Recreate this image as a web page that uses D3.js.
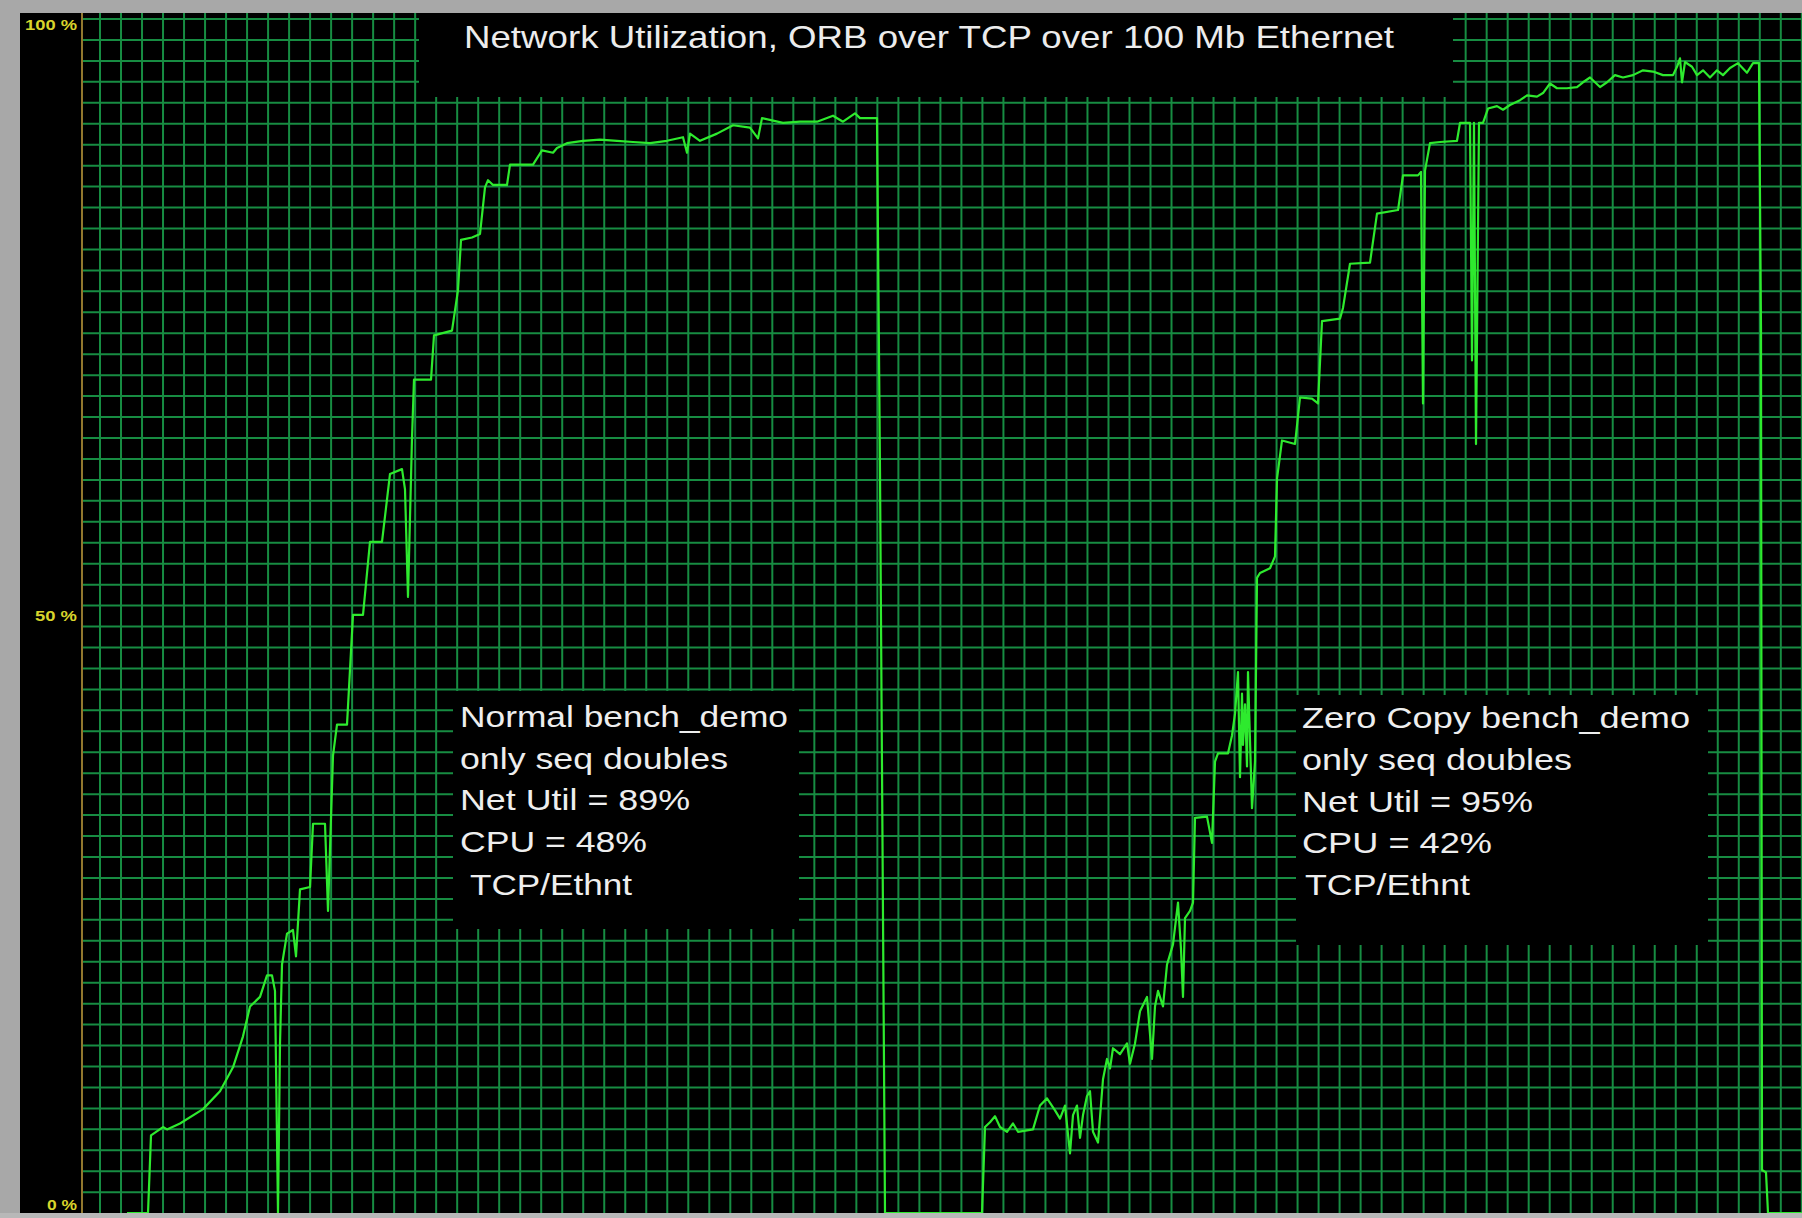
<!DOCTYPE html>
<html>
<head>
<meta charset="utf-8">
<title>Network Utilization</title>
<script src="https://cdn.jsdelivr.net/npm/d3@7"></script>
<style>
  html, body { margin: 0; padding: 0; background: #a9a9a9; }
  svg { display: block; }
</style>
</head>
<body>
<svg id="chart" width="1802" height="1218"></svg>
<script>
// Network utilisation samples: [time (s), utilisation (%)]
const normalRun = [
  [4.5, 0], [6.6, 0], [6.9, 6.5], [8.1, 7.2], [8.5, 7.0], [9.8, 7.5], [12.1, 8.7],
  [13.8, 10.2], [15.1, 12.2], [16.1, 14.8], [16.8, 17.3], [17.8, 18.1], [18.5, 19.9],
  [19.0, 19.9], [19.3, 18.6], [19.6, 0], [19.8, 14.2], [20.0, 20.8], [20.5, 23.4],
  [21.1, 23.7], [21.4, 21.5], [21.8, 27.1], [22.8, 27.3], [23.1, 32.6], [24.3, 32.6],
  [24.6, 25.3], [25.1, 38.3], [25.5, 40.9], [26.5, 40.9], [27.1, 50.1], [28.1, 50.1],
  [28.8, 56.2], [30.0, 56.2], [30.8, 61.9], [32.0, 62.3], [32.3, 60.6], [32.6, 51.6],
  [33.0, 64.9], [33.2, 69.8], [34.9, 69.8], [35.2, 73.5], [37.0, 73.9], [37.6, 77.3],
  [37.9, 81.5], [39.0, 81.7], [39.8, 82.0], [40.3, 85.9], [40.6, 86.5], [41.1, 86.1],
  [42.5, 86.1], [42.8, 87.8], [45.1, 87.8], [46.0, 89.0], [47.1, 88.8], [47.5, 89.2],
  [48.5, 89.6], [50.1, 89.8], [51.8, 89.9], [53.5, 89.8], [55.1, 89.7], [56.8, 89.6],
  [58.5, 89.8], [60.1, 90.1], [60.5, 88.8], [60.8, 90.4], [61.8, 89.8], [63.5, 90.4],
  [65.1, 91.1], [66.8, 90.9], [67.6, 90.0], [68.0, 91.7], [70.1, 91.3], [71.8, 91.4],
  [73.5, 91.4], [75.1, 91.9], [76.1, 91.4], [77.3, 92.1], [77.8, 91.7], [79.5, 91.7],
  [79.8, 62.1], [80.3, 0]
];

const zeroCopyRun = [
  [80.3, 0], [90.0, 0], [90.3, 7.2], [90.8, 7.6], [91.3, 8.1], [91.8, 7.2], [92.5, 6.8],
  [93.1, 7.5], [93.6, 6.8], [95.1, 7.0], [95.8, 9.0], [96.5, 9.6], [97.3, 8.6], [97.8, 7.9],
  [98.3, 9.0], [98.8, 5.0], [99.1, 8.2], [99.5, 9.0], [99.8, 6.3], [100.1, 8.2], [100.5, 9.8],
  [100.8, 10.2], [101.1, 6.8], [101.6, 5.9], [102.1, 11.2], [102.5, 12.9], [102.8, 12.1],
  [103.1, 13.8], [103.8, 13.3], [104.5, 14.2], [104.8, 12.5], [105.3, 14.2], [105.8, 16.9],
  [106.5, 18.1], [107.0, 12.9], [107.3, 17.3], [107.6, 18.6], [108.1, 17.3], [108.5, 20.8],
  [109.1, 22.5], [109.6, 26.0], [109.9, 22.1], [110.1, 18.1], [110.3, 24.7], [110.8, 25.3],
  [111.1, 26.0], [111.3, 33.1], [112.5, 33.2], [113.0, 31.0], [113.3, 37.8], [113.6, 38.5],
  [114.6, 38.5], [115.0, 40.0], [115.3, 41.8], [115.6, 45.3], [115.8, 36.5], [116.0, 43.5],
  [116.1, 39.2], [116.3, 42.6], [116.5, 37.4], [116.6, 45.3], [117.0, 33.9], [117.3, 37.8],
  [117.5, 53.2], [117.8, 53.6], [118.8, 54.0], [119.3, 55.0], [119.5, 61.5], [120.0, 64.7],
  [121.3, 64.4], [121.8, 68.3], [123.0, 68.2], [123.6, 67.8], [124.0, 74.7], [125.8, 74.9],
  [126.1, 75.8], [126.8, 79.5], [128.8, 79.6], [129.5, 83.7], [131.6, 84.0], [132.1, 86.9],
  [133.6, 86.9], [133.9, 87.2], [134.1, 67.8], [134.3, 87.3], [134.8, 89.6], [135.8, 89.7],
  [137.5, 89.8], [137.8, 91.3], [138.8, 91.3], [139.0, 71.4], [139.2, 91.3], [139.4, 64.4],
  [139.7, 91.3], [140.1, 91.3], [140.6, 92.5], [141.5, 92.7], [142.1, 92.4], [142.8, 92.8],
  [143.8, 93.2], [144.5, 93.6], [145.5, 93.5], [146.1, 93.8], [146.8, 94.6], [147.5, 94.2],
  [148.5, 94.2], [149.5, 94.3], [150.1, 94.7], [150.8, 95.1], [151.8, 94.3], [152.5, 94.7],
  [153.3, 95.3], [154.1, 95.1], [155.1, 95.3], [156.1, 95.7], [157.1, 95.6], [158.1, 95.3],
  [159.1, 95.3], [159.5, 96.0], [159.8, 96.7], [160.0, 94.7], [160.3, 96.4], [161.0, 96.0],
  [161.5, 95.3], [162.1, 95.7], [162.8, 95.1], [163.5, 95.7], [164.1, 95.3], [164.8, 95.9],
  [165.6, 96.3], [166.5, 95.5], [167.1, 96.3], [167.7, 96.3], [167.9, 74.0], [168.0, 3.6],
  [168.4, 3.4], [168.6, 0], [172.0, 0]
];

const timeDomain = [0, 172];
const yTicks = [0, 50, 100];
const yTickLabels = ["0 %", "50 %", "100 %"];

const chartTitle = "Network Utilization, ORB over TCP over 100 Mb Ethernet";
const normalNote = ["Normal bench_demo", "only seq doubles", "Net Util = 89%", "CPU = 48%", "TCP/Ethnt"];
const zeroCopyNote = ["Zero Copy bench_demo", "only seq doubles", "Net Util = 95%", "CPU = 42%", "TCP/Ethnt"];

// ---- layout ----
const W = 1802, H = 1218;
const panel = { x: 20, y: 13, w: W - 20, h: 1200 };
const plotLeft = 82, plotRight = W, plotTop = 19, plotBottom = 1213;
const font = "'Liberation Sans', Arial, sans-serif";

const svg = d3.select("#chart");

const x = d3.scaleLinear().domain(timeDomain).range([plotLeft, plotRight]);
const y = d3.scaleLinear().domain([0, 100]).range([plotBottom, plotTop]);

// window frame and black graph panel
svg.append("rect").attr("x", 0).attr("y", 0).attr("width", W).attr("height", H).attr("fill", "#a8a8a8");
svg.append("rect").attr("x", panel.x).attr("y", panel.y).attr("width", panel.w).attr("height", panel.h).attr("fill", "#000");

// monitor grid
const grid = svg.append("g").attr("stroke", "#178c42").attr("stroke-width", 2);
const gx = d3.range(100, W + 1, 21.01);
const gy = d3.range(19, panel.y + panel.h - 1, 20.95);
grid.selectAll("line.v").data(gx).join("line").attr("class", "v")
  .attr("x1", d => d).attr("x2", d => d).attr("y1", panel.y).attr("y2", panel.y + panel.h);
grid.selectAll("line.h").data(gy).join("line").attr("class", "h")
  .attr("x1", plotLeft + 1).attr("x2", W).attr("y1", d => d).attr("y2", d => d);

// percentage axis
const axis = d3.axisLeft(y)
  .tickValues(yTicks)
  .tickSize(0)
  .tickPadding(5)
  .tickFormat((d, i) => yTickLabels[i]);
const axisG = svg.append("g").attr("transform", `translate(${plotLeft},0)`).call(axis);
axisG.select(".domain").attr("d", `M0,${panel.y}V${panel.y + panel.h}`)
  .attr("stroke", "#b8973a").attr("stroke-width", 1.6);
const labelWidth = { 0: 30, 50: 42, 100: 52 };
const labelShift = { 0: -8, 50: 0, 100: 6 };
axisG.selectAll(".tick text")
  .attr("fill", "#d8d42c")
  .attr("font-family", font)
  .attr("font-weight", "bold")
  .attr("font-size", 14)
  .attr("dy", "0.35em")
  .attr("y", d => labelShift[d])
  .attr("textLength", d => labelWidth[d])
  .attr("lengthAdjust", "spacingAndGlyphs");

// utilisation trace
const line = d3.line().x(d => x(d[0])).y(d => y(d[1]));
const traces = svg.append("g")
  .attr("fill", "none")
  .attr("stroke", "#2eea2e")
  .attr("stroke-width", 2.2)
  .attr("stroke-linejoin", "round");
[normalRun, zeroCopyRun].forEach(run => traces.append("path").attr("d", line(run)));

// lower window edge sits over the baseline of the trace
svg.append("rect").attr("x", 0).attr("y", panel.y + panel.h).attr("width", W).attr("height", H - panel.y - panel.h).attr("fill", "#b8b8b8");

// title banner
svg.append("rect").attr("x", 419).attr("y", panel.y).attr("width", 1034).attr("height", 84).attr("fill", "#000");
svg.append("text")
  .attr("x", 464).attr("y", 48)
  .attr("font-family", font).attr("font-size", 32)
  .attr("fill", "#ececec")
  .attr("textLength", 930).attr("lengthAdjust", "spacingAndGlyphs")
  .text(chartTitle);

// run annotations
function note(lines, box, lineX, baselines, widths) {
  svg.append("rect").attr("x", box.x).attr("y", box.y).attr("width", box.w).attr("height", box.h).attr("fill", "#000");
  svg.append("g")
    .attr("font-family", font).attr("font-size", 30).attr("fill", "#eeeeee")
    .selectAll("text").data(lines).join("text")
    .attr("x", (d, i) => lineX[i])
    .attr("y", (d, i) => baselines[i])
    .attr("textLength", (d, i) => widths[i])
    .attr("lengthAdjust", "spacingAndGlyphs")
    .text(d => d);
}
note(normalNote,
  { x: 453, y: 691, w: 346, h: 238 },
  [460, 460, 460, 460, 470],
  [727, 769, 810, 852, 895],
  [328, 268, 230, 187, 162]);
note(zeroCopyNote,
  { x: 1296, y: 695, w: 412, h: 250 },
  [1302, 1302, 1302, 1302, 1305],
  [728, 770, 812, 853, 895],
  [388, 270, 231, 190, 165]);
</script>
</body>
</html>
